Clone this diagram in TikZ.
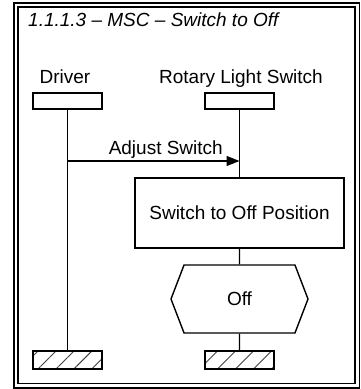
\documentclass[tikz,border=0pt]{standalone}
\usepackage{fontspec}
\setmainfont{Liberation Sans}
\usetikzlibrary{arrows.meta,patterns.meta,shapes.symbols}

\tikzset{
    lbl/.style={inner sep=0pt, font=\fontsize{19}{21}\selectfont},
    headbox/.style={draw, line width=1.4pt, minimum width=69pt, minimum height=16pt, inner sep=0pt},
    endbox/.style={draw, line width=1.4pt, minimum width=69pt, minimum height=18pt, inner sep=0pt,
        pattern={Lines[angle=45,distance=12.7pt,line width=0.9pt]}, pattern color=black!75},
    actbox/.style={draw, line width=1.4pt, minimum width=209pt, minimum height=70pt, inner sep=0pt,
        font=\fontsize{19}{21}\selectfont},
    condbox/.style={draw, line width=1.4pt, shape=signal, signal to=west and east,
        signal pointer angle=138, minimum width=137pt, minimum height=68pt, inner sep=0pt,
        font=\fontsize{19}{21}\selectfont},
    life/.style={line width=1.4pt},
    msg/.style={line width=1.4pt, -{Triangle[length=13pt,width=10pt]}}
}

\begin{document}
\begin{tikzpicture}[x=1pt, y=-1pt]
    \useasboundingbox (0,0) rectangle (361,389);

    % Frame
    \draw[line width=1.5pt] (14,3) rectangle (359.5,388);
    \draw[line width=1.5pt] (18,7) rectangle (355,383.5);
    \node[lbl, anchor=base west, font=\fontsize{19}{21}\selectfont\itshape] (title) at (28,26)
        {1.1.1.3 -- MSC -- Switch to Off};

    % Driver
    \node[lbl, anchor=base] (drvname) at (65,83) {Driver};
    \node[headbox] (drvhead) at (67.5,101) {};
    \node[endbox] (drvend) at (67.5,360) {};
    \draw[life] (drvhead) -- (drvend);

    % Rotary Light Switch
    \node[lbl, anchor=base] (rlsname) at (241,83) {Rotary Light Switch};
    \node[headbox] (rlshead) at (239.5,101) {};
    \node[actbox] (adjust) at (239.5,213) {Switch to Off Position};
    \node[condbox] (off) at (239.5,299) {Off};
    \node[endbox] (rlsend) at (239.5,360) {};
    \draw[life] (rlshead) -- (adjust);
    \draw[life] (adjust) -- (off);
    \draw[life] (off) -- (rlsend);

    % Message
    \coordinate (msgfrom) at (drvhead.south |- 0,161);
    \coordinate (msgto) at (rlshead.south |- 0,161);
    \draw[msg] (msgfrom) -- (msgto);
    \node[lbl, anchor=base east] (msglbl) at (223,154) {Adjust Switch};
\end{tikzpicture}
\end{document}
